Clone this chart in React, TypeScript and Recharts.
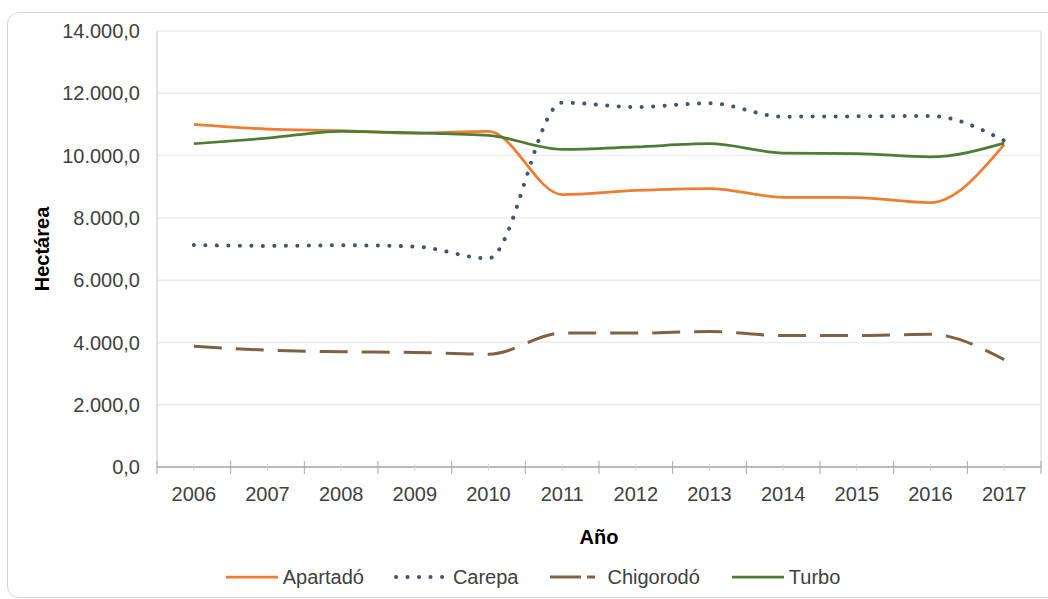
import {
  LineChart,
  Line,
  XAxis,
  YAxis,
  CartesianGrid,
  Legend,
} from "recharts";

const years = ["2006", "2007", "2008", "2009", "2010", "2011", "2012", "2013", "2014", "2015", "2016", "2017"];
const apartado = [11000, 10850, 10800, 10720, 10780, 8750, 8880, 8940, 8660, 8650, 8490, 10350];
const carepa = [7130, 7100, 7120, 7080, 6700, 11700, 11560, 11680, 11250, 11260, 11270, 10480];
const chigorodo = [3880, 3750, 3700, 3680, 3620, 4300, 4300, 4350, 4220, 4220, 4260, 3450];
const turbo = [10380, 10560, 10780, 10730, 10650, 10200, 10280, 10380, 10080, 10060, 9960, 10400];
const yTicks = [0, 2000, 4000, 6000, 8000, 10000, 12000, 14000];

const FONT = '"Liberation Sans", Arial, sans-serif';
const FS = 20;
const W = 1040;
const H = 585;
const M = { top: 19, right: 6, bottom: 10, left: 20 };
const Y_W = 129;
const BAND = (W - M.left - Y_W - M.right - 1) / years.length;

const series = [
  { key: "Apartadó", color: "#ed7d31", width: 2.75, dash: undefined, cap: "butt" },
  { key: "Carepa", color: "#44546a", width: 4, dash: "0.1 11.4", cap: "round" },
  { key: "Chigorodó", color: "#7f6245", width: 3, dash: "28 14", cap: "butt" },
  { key: "Turbo", color: "#4e7b35", width: 2.75, dash: undefined, cap: "butt" },
];

const data = years.map((year, i) => ({
  year,
  "Apartadó": apartado[i],
  Carepa: carepa[i],
  "Chigorodó": chigorodo[i],
  Turbo: turbo[i],
}));

const fmt = (v: number) =>
  Math.round(v).toString().replace(/\B(?=(\d{3})+(?!\d))/g, ".") + ",0";

const XTick = (props: any) => {
  const { x, y, payload, index } = props;
  const half = BAND / 2;
  return (
    <g>
      <line x1={x - half} x2={x - half} y1={y - 6} y2={y + 7} stroke="#a6a6a6" />
      {index === years.length - 1 && (
        <line x1={x + half} x2={x + half} y1={y - 6} y2={y + 7} stroke="#a6a6a6" />
      )}
      <line x1={x} x2={x} y1={y - 3} y2={y + 4} stroke="#d4d4d4" />
      <text x={x} y={y + 34} textAnchor="middle" fill="#404040" fontSize={FS} fontFamily={FONT}>
        {payload.value}
      </text>
    </g>
  );
};

const LegendContent = () => (
  <div
    style={{
      display: "flex",
      justifyContent: "center",
      alignItems: "center",
      height: 20,
      paddingLeft: 24,
      fontFamily: FONT,
      fontSize: FS,
      color: "#404040",
    }}
  >
    {series.map((s) => (
      <div key={s.key} style={{ display: "flex", alignItems: "center", marginRight: 30 }}>
        <svg width={56} height={10}>
          <line
            x1={2}
            x2={54}
            y1={5}
            y2={5}
            stroke={s.color}
            strokeWidth={s.width}
            strokeDasharray={s.key === "Chigorodó" ? "31 6 8 100" : s.dash}
            strokeLinecap={s.cap as any}
          />
        </svg>
        <span style={{ marginLeft: 3 }}>{s.key}</span>
      </div>
    ))}
  </div>
);

export default function App() {
  return (
    <div style={{ position: "fixed", left: 0, top: 0, width: 1048, height: 599, overflow: "hidden", background: "#fff" }}>
      <div
        style={{
          position: "absolute",
          left: 7,
          top: 12,
          width: 1060,
          height: 584,
          border: "1px solid #d4d4d4",
          borderRadius: 12,
        }}
      />
      <div style={{ position: "absolute", left: 8, top: 12 }}>
        <LineChart width={W} height={H} data={data} margin={M}>
          <CartesianGrid vertical={false} stroke="#ececec" strokeWidth={1.5} />
          <XAxis
            dataKey="year"
            scale="band"
            interval={0}
            tickSize={0}
            tickMargin={0}
            tickLine={false}
            axisLine={{ stroke: "#a6a6a6", strokeWidth: 1.5 }}
            tick={<XTick />}
            height={100}
            label={{
              content: (p: any) => {
                const vb = p.viewBox;
                return (
                  <text
                    x={vb.x + vb.width / 2}
                    y={vb.y + 77}
                    textAnchor="middle"
                    fontFamily={FONT}
                    fontSize={FS}
                    fontWeight="bold"
                    fill="#000"
                  >
                    Año
                  </text>
                );
              },
            }}
          />
          <YAxis
            domain={[0, 14000]}
            ticks={yTicks}
            tickFormatter={fmt}
            width={Y_W}
            tickLine={false}
            tickSize={0}
            tickMargin={17}
            axisLine={{ stroke: "#d9d9d9", strokeWidth: 1.5 }}
            tick={{ fill: "#404040", fontSize: FS, fontFamily: FONT }}
            label={{
              content: (p: any) => {
                const vb = p.viewBox;
                const cx = 36;
                const cy = vb.y + vb.height / 2;
                return (
                  <text
                    x={cx}
                    y={cy}
                    transform={`rotate(-90 ${cx} ${cy})`}
                    textAnchor="middle"
                    dominantBaseline="middle"
                    fontFamily={FONT}
                    fontSize={FS}
                    fontWeight="bold"
                    fill="#000"
                  >
                    Hectárea
                  </text>
                );
              },
            }}
          />
          <YAxis
            yAxisId="r"
            orientation="right"
            domain={[0, 14000]}
            width={1}
            tick={false}
            tickLine={false}
            axisLine={{ stroke: "#e3e3e3", strokeWidth: 1.5 }}
          />
          <Legend verticalAlign="bottom" content={<LegendContent />} />
          {series.map((s) => (
            <Line
              key={s.key}
              type="monotone"
              dataKey={s.key}
              stroke={s.color}
              strokeWidth={s.width}
              strokeDasharray={s.dash}
              strokeLinecap={s.cap as any}
              dot={false}
              activeDot={false}
              isAnimationActive={false}
            />
          ))}
        </LineChart>
      </div>
    </div>
  );
}
